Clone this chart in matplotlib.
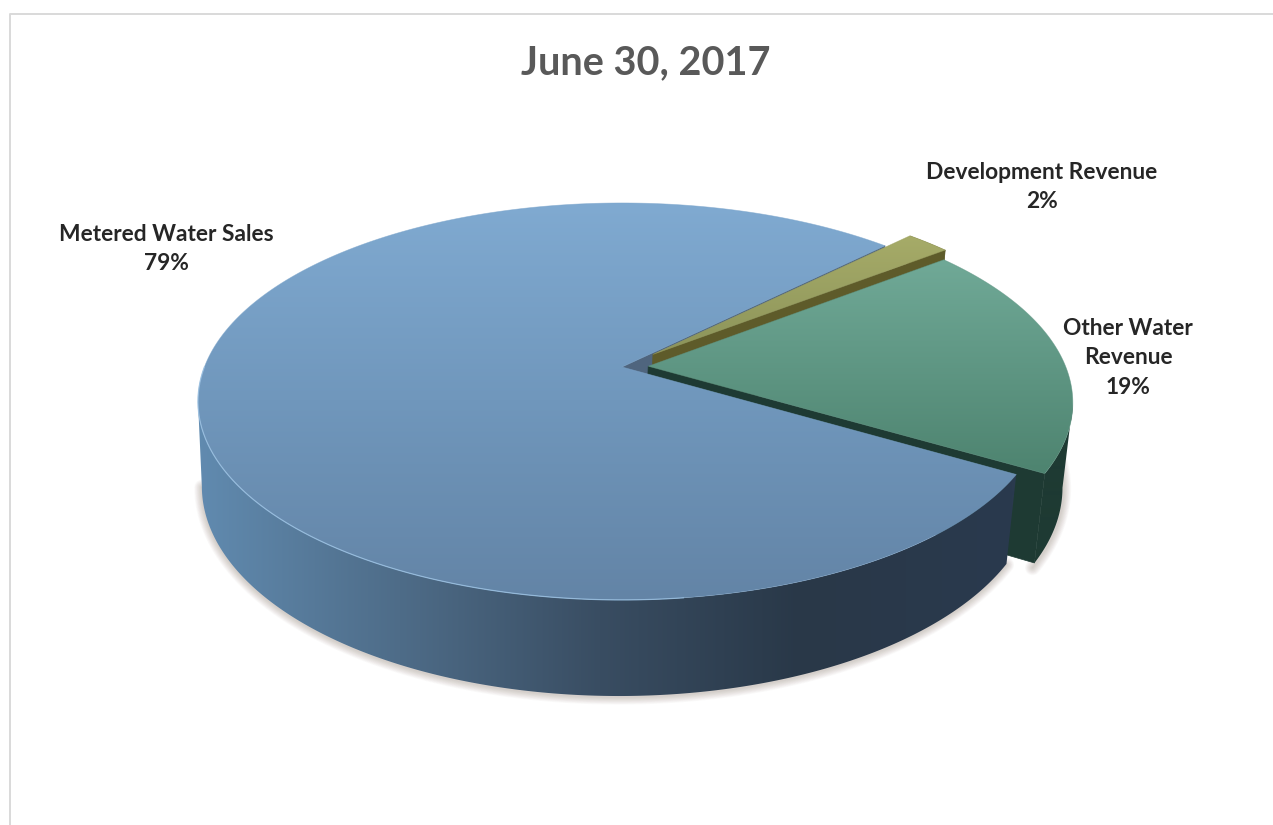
import numpy as np
import matplotlib
matplotlib.use("Agg")
import matplotlib.pyplot as plt
from matplotlib.patches import Polygon

# Revenue shares, in percent, in drawing order around the disc
categories = ["Metered Water Sales", "Other Water\nRevenue", "Development Revenue"]
shares = [79, 19, 2]
chart_title = "June 30, 2017"

# Outward displacement of each slice, in disc radii
explode = [0.0, 0.063, 0.10]
start_angle = 45.0

# Perspective projection of the disc onto the canvas
CX, CY = 622.0, 367.0
RX, RY = 417.6, 192.5
K = 0.1735
DEPTH, DEPTH_K, DEPTH_SHIFT = 84.7, 0.016, -3.0


def project(u, v, z=0.0):
    w = 1 - K * np.asarray(v) + DEPTH_K * z
    return (CX + RX * np.asarray(u) / w + DEPTH_SHIFT * z,
            CY + (RY * np.asarray(v) + DEPTH * z) / w)


def rim(theta_deg, du, dv, z=0.0):
    t = np.radians(theta_deg)
    return project(np.cos(t) + du, -np.sin(t) + dv, z)


def stops_to_image(stops, size, vertical):
    pos = [s[0] for s in stops]
    rgb = np.array([matplotlib.colors.to_rgb(s[1]) for s in stops])
    grid = np.arange(size)
    ramp = np.stack([np.interp(grid, pos, rgb[:, i]) for i in range(3)], axis=-1)
    return ramp[:, None, :] if vertical else ramp[None, :, :]


def gradient_fill(ax, xs, ys, stops, vertical, z, edge):
    """Fill a polygon with a linear ramp, softening its clipped edge."""
    size = 825 if vertical else 1273
    xy = np.column_stack([xs, ys])
    clip = Polygon(xy, closed=True, transform=ax.transData, fc="none", ec="none")
    ax.add_patch(clip)
    im = ax.imshow(stops_to_image(stops, size, vertical), extent=(0, 1273, 825, 0),
                   aspect="auto", interpolation="bilinear", zorder=z)
    im.set_clip_path(clip)
    if edge:
        ax.add_patch(Polygon(xy, closed=True, fc="none", ec=edge, lw=0.5, alpha=0.6, zorder=z))


def flat_fill(ax, xs, ys, color, z):
    ax.add_patch(Polygon(np.column_stack([xs, ys]), closed=True, fc=color, ec=color,
                         lw=0.5, zorder=z))


def radial_wall(theta, du, dv):
    x0, y0 = project(du, dv, 0.0)
    x1, y1 = rim(theta, du, dv, 0.0)
    x2, y2 = rim(theta, du, dv, 1.0)
    x3, y3 = project(du, dv, 1.0)
    return [x0, x1, x2, x3], [y0, y1, y2, y3]


def outer_wall_outline(i, du, dv):
    """Outline of a slice's outer wall, bridging its silhouette with a straight tangent."""
    th = np.linspace(edges[i], edges[i + 1], 800)
    tx, ty = rim(th, du, dv, 0.0)
    bx, by = rim(th, du, dv, 1.0)
    if i == 0:
        # Wall runs from the left extreme of the disc to the end of the slice
        it, ib = np.argmin(tx), np.argmin(bx)
        return np.r_[tx[it:], bx[ib:][::-1]], np.r_[ty[it:], by[ib:][::-1]]
    if i == 1:
        # Wall runs from the start of the slice to its right extreme
        it, ib = np.argmax(tx), np.argmax(bx)
        return np.r_[tx[:it + 1], bx[:ib + 1][::-1]], np.r_[ty[:it + 1], by[:ib + 1][::-1]]
    return np.r_[tx, bx[::-1]], np.r_[ty, by[::-1]]


TOP_STOPS = [
    [(203, "#80AAD1"), (400, "#7097BC"), (600, "#6384A6")],
    [(260, "#70A997"), (470, "#4E8470")],
    [(236, "#A6AB68"), (354, "#8C945A")],
]
TOP_EDGES = ["#7DA6CC", "#5E9482", "#9CA162"]
WALL_STOPS = [
    [(196, "#618BB0"), (400, "#4E6C88"), (600, "#394D62"), (800, "#293848"), (1012, "#2A3A4E")],
    [(1005, "#1E3A33"), (1072, "#1E3A33")],
    [(900, "#5E5B2A"), (950, "#5E5B2A")],
]
RADIAL_COLORS = ["#4F657E", "#1E3A33", "#5E5B2A"]

fig = plt.figure(figsize=(12.73, 8.25), dpi=100, facecolor="white")
ax = fig.add_axes([0, 0, 1, 1])
ax.set_axis_off()

# Chart frame, open towards the right and bottom edges
ax.plot([9.5, 9.5, 1273], [825, 13.5, 13.5], color="#D9D9D9", lw=1.4, zorder=1)

# Cumulative slice angles, derived from the shares
total = float(sum(shares))
edges = start_angle + np.cumsum([0.0] + [360.0 * s / total for s in shares])
mids = (edges[:-1] + edges[1:]) / 2
offsets = [(e * np.cos(np.radians(m)), -e * np.sin(np.radians(m))) for e, m in zip(explode, mids)]

# Soft shadow around the foot of the front wall
sx, sy = outer_wall_outline(0, *offsets[0])
half = len(sx) // 2
foot_x, foot_y = sx[half:], sy[half:]
for lw in np.arange(1.0, 12.0, 1.0):
    ax.plot(foot_x, foot_y + 1.0, color="#6E5A48", lw=lw, alpha=0.028, zorder=2,
            solid_capstyle="round")
gx, gy = rim(np.linspace(edges[1] - 1, edges[1] + 30, 100), *offsets[1], 1.0)
for lw in np.arange(1.0, 12.0, 1.0):
    ax.plot(gx + 1.0, gy + 1.0, color="#6E5A48", lw=lw, alpha=0.028, zorder=2,
            solid_capstyle="round")

# The exposed inner face of the large slice sits behind everything else
wx, wy = radial_wall(edges[0], *offsets[0])
flat_fill(ax, wx, wy, RADIAL_COLORS[0], 3)


def draw_slice(i, base_z):
    du, dv = offsets[i]
    th = np.linspace(edges[i], edges[i + 1], 400)
    tx, ty = rim(th, du, dv, 0.0)
    # Outer wall
    ox, oy = outer_wall_outline(i, du, dv)
    gradient_fill(ax, ox, oy, WALL_STOPS[i], False, base_z + 1, None)
    # Top face
    ax_, ay_ = project(du, dv, 0.0)
    gradient_fill(ax, np.r_[ax_, tx], np.r_[ay_, ty], TOP_STOPS[i], True, base_z + 2, TOP_EDGES[i])


# Back to front: narrow slice, mid slice, then the large slice
wx, wy = radial_wall(edges[2], *offsets[2])
flat_fill(ax, wx, wy, RADIAL_COLORS[2], 4)
draw_slice(2, 4)

wx, wy = radial_wall(edges[1], *offsets[1])
flat_fill(ax, wx, wy, RADIAL_COLORS[1], 8)
draw_slice(1, 8)

draw_slice(0, 12)

# Bright rim along the front of the large slice
hl = np.linspace(edges[0] + 135, edges[0] + 232, 200)
hx, hy = rim(hl, 0, 0, 0.0)
ax.plot(hx, hy, color="#9CC2E3", lw=0.9, alpha=0.75, zorder=15)

# Labels
font = "Lato"
ax.text(646, 63, chart_title, ha="center", va="center", fontsize=28.5, fontweight="bold",
        color="#595959", family=font, zorder=20)
label_anchor = [(166, 249), (1128, 358), (1042, 187)]
for name, share, (lx, ly) in zip(categories, shares, label_anchor):
    ax.text(lx, ly, f"{name}\n{share}%", ha="center", va="center", fontsize=16.4,
            fontweight="bold", color="#262626", family=font, linespacing=1.48, zorder=20)

ax.set_xlim(0, 1273)
ax.set_ylim(825, 0)
fig.savefig("out.png", dpi=100, facecolor="white")
